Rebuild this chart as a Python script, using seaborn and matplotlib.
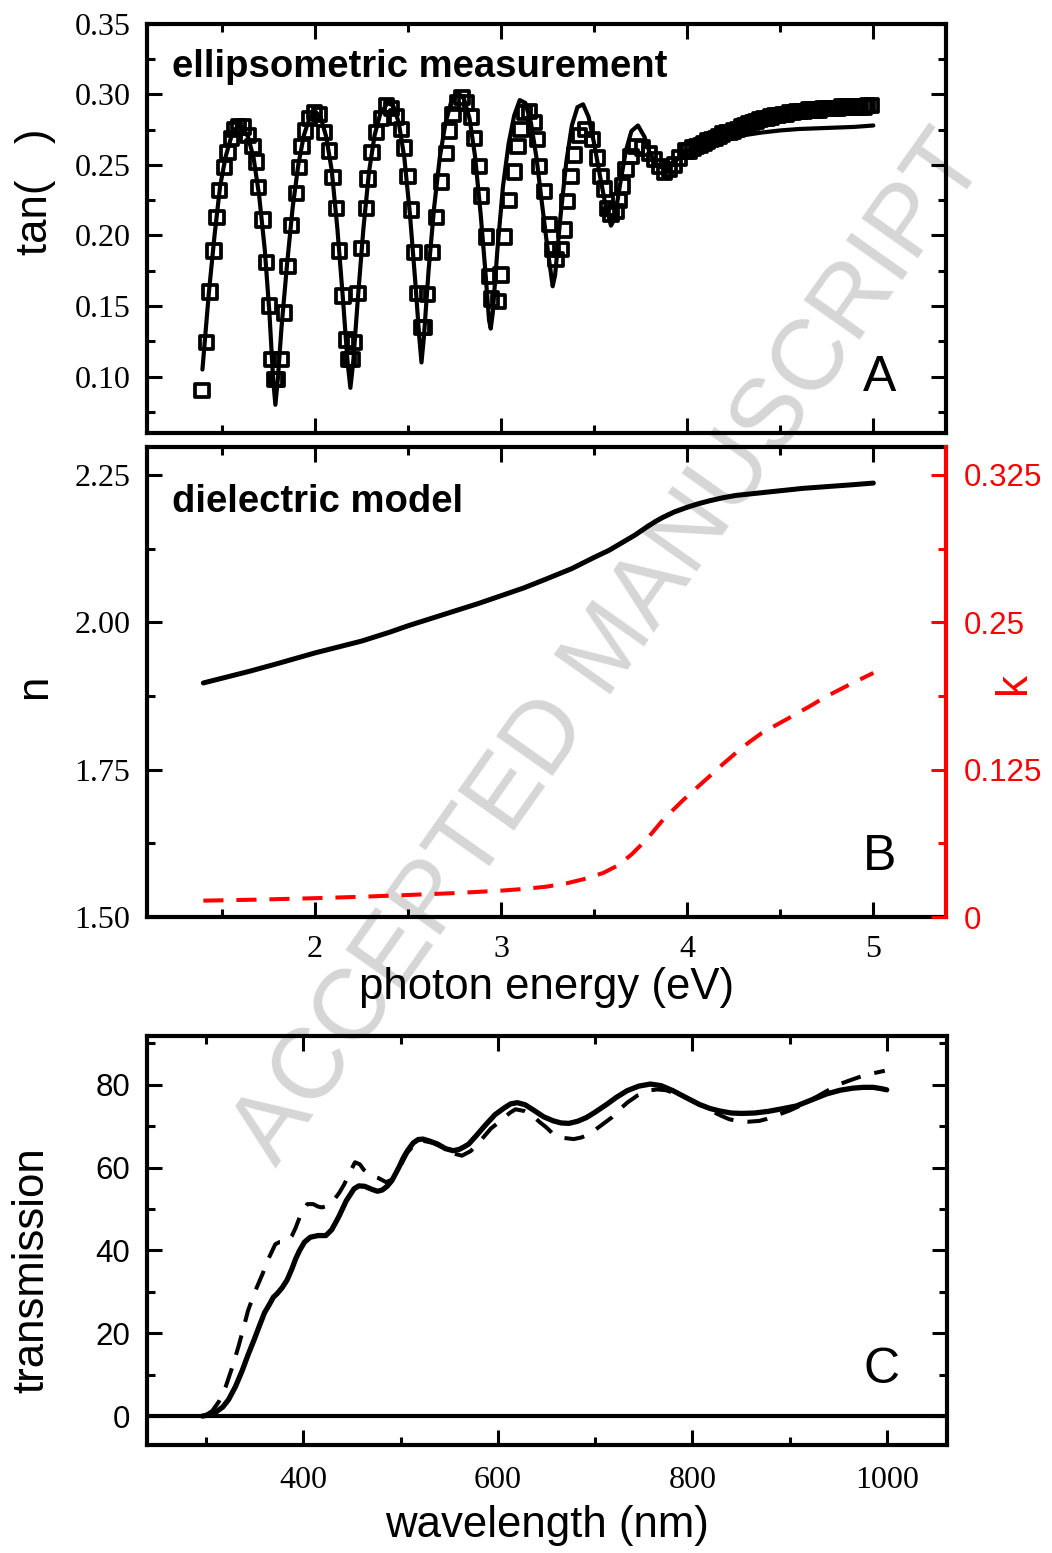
import numpy as np
import pandas as pd
import matplotlib
matplotlib.use("Agg")
import matplotlib.pyplot as plt
import seaborn as sns
from matplotlib.ticker import MultipleLocator, FixedLocator

# ---------------- data: panel A (ellipsometry) ----------------
meas_E = [1.393, 1.417, 1.435, 1.458, 1.474, 1.488, 1.515, 1.533, 1.551, 1.569,
          1.587, 1.614, 1.640, 1.667, 1.685, 1.698, 1.721, 1.739, 1.757, 1.769,
          1.785, 1.800, 1.819, 1.837, 1.855, 1.873, 1.900, 1.918, 1.930, 1.948,
          1.971, 1.998, 2.025, 2.052, 2.079, 2.097, 2.114, 2.132, 2.150, 2.168,
          2.180, 2.198, 2.213, 2.231, 2.249, 2.275, 2.284, 2.306, 2.329, 2.356,
          2.383, 2.410, 2.436, 2.463, 2.481, 2.499, 2.517, 2.535, 2.553, 2.575,
          2.590, 2.606, 2.633, 2.651, 2.678, 2.705, 2.723, 2.741, 2.767, 2.790,
          2.812, 2.839, 2.857, 2.884, 2.893, 2.920, 2.938, 2.950, 2.985, 3.000,
          3.018, 3.045, 3.071, 3.090, 3.107, 3.125, 3.152, 3.179, 3.197, 3.206,
          3.233, 3.260, 3.277, 3.295, 3.322, 3.340, 3.358, 3.376, 3.394, 3.420,
          3.456, 3.492, 3.519, 3.537, 3.555, 3.573, 3.590, 3.617, 3.635, 3.653,
          3.671, 3.698, 3.725, 3.760, 3.796, 3.823, 3.850, 3.877, 3.904, 3.930,
          3.957, 3.993, 4.01, 4.03, 4.05, 4.07, 4.09, 4.11, 4.13, 4.15,
          4.17, 4.19, 4.21, 4.23, 4.25, 4.27, 4.29, 4.31, 4.33, 4.35,
          4.37, 4.39, 4.41, 4.43, 4.45, 4.47, 4.49, 4.51, 4.53, 4.55,
          4.57, 4.59, 4.61, 4.63, 4.65, 4.67, 4.69, 4.71, 4.73, 4.75,
          4.77, 4.79, 4.81, 4.83, 4.85, 4.87, 4.89, 4.91, 4.93, 4.95,
          4.97, 4.99]
meas_tan = [0.090, 0.124, 0.160, 0.189, 0.213, 0.232, 0.248, 0.259, 0.269, 0.275,
            0.277, 0.277, 0.271, 0.263, 0.252, 0.234, 0.211, 0.181, 0.150, 0.112,
            0.098, 0.098, 0.112, 0.145, 0.178, 0.207, 0.230, 0.248, 0.263, 0.274,
            0.283, 0.287, 0.286, 0.273, 0.260, 0.241, 0.219, 0.189, 0.157, 0.126,
            0.112, 0.112, 0.124, 0.159, 0.191, 0.219, 0.240, 0.259, 0.273, 0.283,
            0.292, 0.290, 0.284, 0.275, 0.262, 0.242, 0.218, 0.188, 0.159, 0.135,
            0.135, 0.158, 0.188, 0.213, 0.238, 0.258, 0.274, 0.286, 0.294, 0.298,
            0.294, 0.284, 0.269, 0.249, 0.228, 0.199, 0.171, 0.155, 0.153, 0.172,
            0.199, 0.225, 0.245, 0.263, 0.275, 0.287, 0.288, 0.280, 0.268, 0.249,
            0.231, 0.208, 0.190, 0.183, 0.190, 0.204, 0.224, 0.242, 0.257, 0.271,
            0.275, 0.268, 0.255, 0.242, 0.233, 0.219, 0.215, 0.217, 0.225, 0.235,
            0.247, 0.256, 0.263, 0.262, 0.258, 0.254, 0.249, 0.245, 0.247, 0.250,
            0.255, 0.260, 0.260, 0.262, 0.263, 0.264, 0.265, 0.267, 0.268, 0.269,
            0.270, 0.272, 0.273, 0.273, 0.274, 0.275, 0.277, 0.278, 0.279, 0.280,
            0.281, 0.282, 0.283, 0.283, 0.284, 0.285, 0.285, 0.286, 0.286, 0.287,
            0.287, 0.288, 0.288, 0.288, 0.289, 0.289, 0.289, 0.289, 0.290, 0.290,
            0.290, 0.290, 0.290, 0.291, 0.291, 0.291, 0.291, 0.291, 0.291, 0.291,
            0.292, 0.292]

fit_E = [1.395, 1.43, 1.46, 1.49, 1.52, 1.55, 1.58, 1.61, 1.64, 1.67,
         1.70, 1.73, 1.755, 1.775, 1.787, 1.80, 1.82, 1.85, 1.88, 1.91,
         1.94, 1.97, 2.00, 2.03, 2.06, 2.09, 2.12, 2.15, 2.175, 2.19,
         2.205, 2.23, 2.26, 2.29, 2.32, 2.35, 2.39, 2.42, 2.45, 2.48,
         2.51, 2.54, 2.56, 2.572, 2.585, 2.61, 2.64, 2.67, 2.70, 2.73,
         2.77, 2.80, 2.83, 2.86, 2.89, 2.915, 2.935, 2.944, 2.955, 2.98,
         3.01, 3.04, 3.07, 3.10, 3.13, 3.16, 3.19, 3.22, 3.25, 3.277,
         3.29, 3.32, 3.35, 3.38, 3.41, 3.44, 3.47, 3.50, 3.53, 3.56,
         3.59, 3.61, 3.64, 3.67, 3.70, 3.735, 3.77, 3.80, 3.84, 3.88,
         3.92, 3.96, 4.0, 4.1, 4.2, 4.3, 4.4, 4.5, 4.6, 4.7,
         4.8, 4.9, 5.0]
fit_tan = [0.105, 0.160, 0.200, 0.235, 0.256, 0.270, 0.277, 0.277, 0.270, 0.255,
           0.228, 0.190, 0.145, 0.098, 0.080, 0.098, 0.135, 0.180, 0.220, 0.250,
           0.271, 0.283, 0.288, 0.284, 0.270, 0.246, 0.205, 0.155, 0.110, 0.092,
           0.110, 0.155, 0.205, 0.245, 0.271, 0.286, 0.294, 0.292, 0.280, 0.255,
           0.215, 0.165, 0.128, 0.110, 0.128, 0.175, 0.220, 0.255, 0.279, 0.294,
           0.301, 0.297, 0.283, 0.256, 0.215, 0.175, 0.140, 0.134, 0.145, 0.190,
           0.235, 0.265, 0.285, 0.296, 0.294, 0.280, 0.255, 0.222, 0.190, 0.164,
           0.172, 0.215, 0.252, 0.278, 0.291, 0.293, 0.284, 0.265, 0.243, 0.222,
           0.207, 0.212, 0.237, 0.260, 0.274, 0.278, 0.270, 0.258, 0.250, 0.247,
           0.250, 0.256, 0.260, 0.265, 0.269, 0.271, 0.273, 0.2745, 0.2755, 0.276,
           0.2765, 0.277, 0.278]

# ---------------- data: panel B (dielectric model) ----------------
n_E = [1.40, 1.50, 1.65, 1.80, 2.00, 2.15, 2.25, 2.40, 2.50, 2.62, 2.75, 2.88,
       3.00, 3.12, 3.24, 3.38, 3.50, 3.58, 3.65, 3.72, 3.78, 3.83, 3.87, 3.93,
       4.00, 4.06, 4.12, 4.19, 4.26, 4.38, 4.50, 4.62, 4.75, 4.88, 5.00]
n_val = [1.897, 1.905, 1.917, 1.930, 1.948, 1.960, 1.968, 1.983, 1.994, 2.006,
         2.019, 2.032, 2.045, 2.058, 2.073, 2.091, 2.110, 2.122, 2.135, 2.148,
         2.161, 2.171, 2.178, 2.187, 2.195, 2.201, 2.206, 2.211, 2.215, 2.219,
         2.223, 2.227, 2.230, 2.233, 2.236]
k_E = [1.40, 1.70, 2.00, 2.25, 2.50, 2.75, 3.00, 3.12, 3.24, 3.35, 3.46, 3.55,
       3.63, 3.70, 3.78, 3.87, 3.98, 4.05, 4.12, 4.19, 4.26, 4.33, 4.40, 4.48,
       4.56, 4.65, 4.75, 4.87, 5.00]
k_val = [0.0139, 0.0148, 0.0160, 0.0172, 0.0187, 0.0203, 0.0224, 0.0238, 0.0257,
         0.0285, 0.0328, 0.0375, 0.0440, 0.0530, 0.0655, 0.0825, 0.0995, 0.1095,
         0.1194, 0.1295, 0.1390, 0.1480, 0.1560, 0.1630, 0.1700, 0.1780, 0.1873,
         0.1970, 0.2070]
k_ticks = [0, 0.125, 0.25, 0.375]
k_ticklabels = ["0", "0.125", "0.25", "0.325"]

# ---------------- data: panel C (transmission) ----------------
solid_nm = [296, 303, 310, 317, 323, 330, 337, 343, 349, 355, 360, 365, 369, 373,
            378, 383, 388, 392, 396, 401, 407, 415, 423, 429, 436, 444, 452, 457,
            463, 470, 476, 481, 486, 491, 498, 503, 507, 513, 518, 523, 530, 538,
            546, 554, 560, 565, 570, 578, 588, 597, 607, 613, 620, 628, 638, 647,
            657, 665, 673, 682, 691, 700, 712, 722, 733, 745, 757, 768, 780, 793,
            807, 818, 828, 840, 851, 864, 878, 892, 907, 922, 938, 952, 965, 976,
            986, 994, 1000]
solid_T = [0, 0.3, 1.0, 2.2, 4.0, 7.1, 11, 14.8, 18.3, 22, 25, 27, 28.7, 29.6,
           31, 32.8, 35.5, 38, 40, 42, 43.2, 43.6, 43.6, 45, 48, 52, 54.9, 55.6,
           55.5, 54.8, 54.3, 54.6, 55.5, 56.9, 60, 62.5, 64.1, 66, 66.8, 66.9, 66.4,
           65.7, 64.6, 64.1, 64.4, 65, 65.7, 67.8, 70.5, 72.8, 74.5, 75.4, 75.7,
           75.2, 73.7, 72.3, 71.3, 70.8, 70.7, 71.2, 72.1, 73.4, 75.3, 77, 78.6,
           79.7, 80.2, 79.8, 78.6, 77, 75.3, 74.3, 73.7, 73.2, 73.1, 73.2, 73.6,
           74.2, 74.9, 76.3, 77.8, 78.7, 79.2, 79.4, 79.4, 79.1, 78.8]
dash_nm = [300, 306, 313, 320, 327, 333, 338, 343, 350, 358, 363, 368, 371, 375,
           379, 383, 388, 392, 398, 404, 410, 415, 419, 425, 432, 437, 442, 448,
           453, 458, 462, 470, 477, 481, 485, 490, 495, 501, 507, 515, 523, 533,
           543, 553, 563, 572, 582, 593, 605, 612, 618, 627, 636, 643, 650, 657,
           667, 678, 686, 694, 705, 717, 725, 733, 744, 754, 764, 773, 788, 804,
           817, 830, 838, 846, 858, 869, 877, 885, 900, 914, 930, 945, 953, 961,
           972, 982, 990, 998]
dash_T = [0.3, 1.2, 3.5, 7.1, 12, 16.7, 21, 25.5, 30, 34.4, 37.5, 40, 41.5, 42.0,
          42.0, 42.1, 43.5, 45.5, 49.2, 51.2, 51.2, 50.6, 50.4, 50.8, 52.4, 54, 56,
          59, 61.3, 60.8, 59.5, 58, 57.5, 57, 56.5, 57, 58, 61, 63.7, 65.8, 66.5,
          66, 64.9, 63.5, 62.9, 64, 66.5, 69.5, 71.7, 73.2, 74.1, 73.7, 72.5, 71,
          69.7, 68.1, 67.2, 66.9, 67.3, 68.1, 70, 72.1, 74, 75.7, 77.5, 78.6, 78.9,
          78.7, 77.5, 75.7, 74, 72.5, 71.7, 71.3, 71.1, 71.3, 71.8, 72.5, 73.8,
          75.3, 77.4, 79.4, 80.3, 81, 81.9, 82.6, 83, 83.4]

# ---------------- style ----------------
sns.set_theme(style="ticks")
plt.rcParams["font.family"] = ["Liberation Sans", "DejaVu Sans"]
plt.rcParams.update({"text.color": "black", "axes.labelcolor": "black",
                     "xtick.color": "black", "ytick.color": "black"})
SERIF = "Liberation Serif"

fig = plt.figure(figsize=(10.52, 15.53), dpi=100)
fig.patch.set_facecolor("white")

axA = fig.add_axes([0.1397, 0.7212, 0.7595, 0.2634])
axB = fig.add_axes([0.1397, 0.4095, 0.7595, 0.3026])
axC = fig.add_axes([0.1397, 0.0695, 0.7605, 0.2634])

# watermark, behind everything
fig.text(0.580, 0.582, "ACCEPTED MANUSCRIPT", rotation=54.8, fontsize=72,
         color="#d6d6d6", ha="center", va="center", zorder=-1)


def style(ax):
    ax.patch.set_visible(False)
    for s in ax.spines.values():
        s.set_visible(True)
        s.set_linewidth(3)
        s.set_color("black")
    ax.tick_params(which="both", direction="in", top=True, right=True,
                   width=2.2, color="black", labelcolor="black")
    ax.tick_params(which="major", length=11)
    ax.tick_params(which="minor", length=6)


# ---------- Panel A ----------
style(axA)
dfA = pd.DataFrame({"E": meas_E, "tan": meas_tan})
dfF = pd.DataFrame({"E": fit_E, "tan": fit_tan})
sns.lineplot(data=dfF, x="E", y="tan", ax=axA, color="black", linewidth=3.0,
             estimator=None, sort=False, zorder=3)
sns.scatterplot(data=dfA, x="E", y="tan", ax=axA, marker="s", s=92,
                facecolor="none", edgecolor="black", linewidth=2.7, zorder=2)
axA.set_xlim(1.097, 5.39)
axA.set_ylim(0.06, 0.35)
axA.xaxis.set_major_locator(MultipleLocator(1))
axA.xaxis.set_minor_locator(MultipleLocator(0.5))
axA.yaxis.set_major_locator(FixedLocator([0.10, 0.15, 0.20, 0.25, 0.30, 0.35]))
axA.yaxis.set_minor_locator(FixedLocator([0.075, 0.125, 0.175, 0.225, 0.275, 0.325]))
axA.set_yticklabels(["0.10", "0.15", "0.20", "0.25", "0.30", "0.35"])
axA.tick_params(axis="x", labelbottom=False)
axA.tick_params(axis="y", labelsize=23, pad=12, labelfontfamily=SERIF)
axA.set_xlabel("")
axA.set_ylabel("tan(   )", fontsize=31.5)
axA.yaxis.label.set_va("center")
axA.yaxis.set_label_coords(-0.14, 0.59)
axA.text(0.031, 0.870, "ellipsometric measurement", transform=axA.transAxes,
         fontsize=27.5, fontweight="bold", ha="left", va="baseline")
axA.text(0.917, 0.134, "A", transform=axA.transAxes, fontsize=36,
         ha="center", va="center")

# ---------- Panel B ----------
style(axB)
axK = axB.twinx()
axB.spines["right"].set_visible(False)
dfN = pd.DataFrame({"E": n_E, "n": n_val})
dfK = pd.DataFrame({"E": k_E, "k": k_val})
sns.lineplot(data=dfN, x="E", y="n", ax=axB, color="black", linewidth=3.6,
             estimator=None, sort=False)
sns.lineplot(data=dfK, x="E", y="k", ax=axK, color="red", linewidth=2.9,
             estimator=None, sort=False)
axK.lines[-1].set_dashes([5, 3.2])
axB.set_xlim(1.097, 5.39)
axB.set_ylim(1.5, 2.297)
axK.set_ylim(0, 0.3985)
axB.xaxis.set_major_locator(MultipleLocator(1))
axB.xaxis.set_minor_locator(MultipleLocator(0.5))
axB.yaxis.set_major_locator(FixedLocator([1.5, 1.75, 2.0, 2.25]))
axB.yaxis.set_minor_locator(FixedLocator([1.625, 1.875, 2.125]))
axB.set_yticklabels(["1.50", "1.75", "2.00", "2.25"])
axB.set_xticks([2, 3, 4, 5])
axB.set_xticklabels(["2", "3", "4", "5"])
axB.tick_params(which="both", direction="in", top=True, right=False, left=True,
                bottom=True)
axB.tick_params(axis="y", labelsize=23, pad=12, labelfontfamily=SERIF)
axB.tick_params(axis="x", labelsize=23, pad=13, labelfontfamily=SERIF)
axB.set_ylabel("n", fontsize=31.5)
axB.yaxis.label.set_va("center")
axB.yaxis.set_label_coords(-0.14, 0.49)
axB.set_xlabel("photon energy (eV)", fontsize=31.5)
axB.xaxis.label.set_va("center")
axB.xaxis.set_label_coords(0.5, -0.149)

axK.patch.set_visible(False)
for side in ["left", "top", "bottom"]:
    axK.spines[side].set_visible(False)
axK.spines["right"].set_visible(True)
axK.spines["right"].set_color("red")
axK.spines["right"].set_linewidth(3)
axK.yaxis.set_major_locator(FixedLocator(k_ticks))
axK.yaxis.set_minor_locator(FixedLocator([0.0625, 0.1875, 0.3125]))
axK.set_yticklabels(k_ticklabels)
axK.tick_params(axis="y", which="both", direction="in", colors="red",
                width=2.2, labelsize=22.5, pad=13)
axK.tick_params(axis="y", which="major", length=11)
axK.tick_params(axis="y", which="minor", length=6)
axK.set_ylabel("k", fontsize=31.5, color="red")
axK.yaxis.label.set_va("center")
axK.yaxis.set_label_coords(1.085, 0.498)
axB.text(0.031, 0.862, "dielectric model", transform=axB.transAxes,
         fontsize=27.5, fontweight="bold", ha="left", va="baseline")
axB.text(0.917, 0.128, "B", transform=axB.transAxes, fontsize=36,
         ha="center", va="center")

# ---------- Panel C ----------
style(axC)
dfS = pd.DataFrame({"nm": solid_nm, "T": solid_T})
dfD = pd.DataFrame({"nm": dash_nm, "T": dash_T})
axC.axhline(0, color="black", linewidth=3, zorder=1)
sns.lineplot(data=dfD, x="nm", y="T", ax=axC, color="black", linewidth=2.9,
             estimator=None, sort=False, zorder=2)
axC.lines[-1].set_dashes([5, 3.5])
sns.lineplot(data=dfS, x="nm", y="T", ax=axC, color="black", linewidth=3.8,
             estimator=None, sort=False, zorder=3)
axC.set_xlim(239, 1062)
axC.set_ylim(-7, 91.8)
axC.xaxis.set_major_locator(MultipleLocator(200))
axC.xaxis.set_minor_locator(FixedLocator([300, 500, 700, 900]))
axC.yaxis.set_major_locator(MultipleLocator(20))
axC.yaxis.set_minor_locator(FixedLocator([10, 30, 50, 70, 90]))
axC.tick_params(axis="x", labelsize=23, pad=15, labelfontfamily=SERIF)
axC.tick_params(axis="y", labelsize=22.5, pad=12)
axC.set_ylabel("transmission", fontsize=31.5)
axC.yaxis.label.set_va("center")
axC.yaxis.set_label_coords(-0.144, 0.428)
axC.set_xlabel("wavelength (nm)", fontsize=31.5)
axC.xaxis.label.set_va("center")
axC.xaxis.set_label_coords(0.5, -0.196)
axC.text(0.918, 0.183, "C", transform=axC.transAxes, fontsize=36,
         ha="center", va="center")

fig.savefig("out.png", dpi=100)
